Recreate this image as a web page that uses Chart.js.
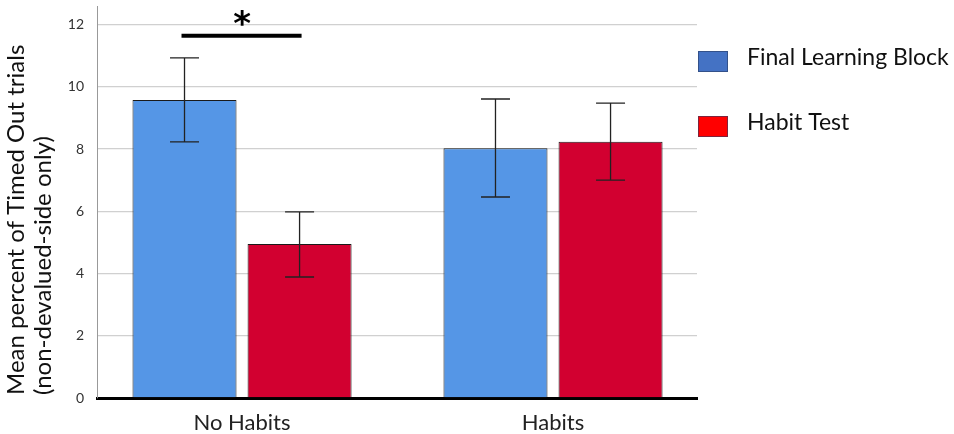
<!DOCTYPE html>
<html>
<head>
<meta charset="utf-8">
<script src="https://cdn.jsdelivr.net/npm/chart.js@4"></script>
<style>
html,body{margin:0;padding:0;background:#fff;}
#wrap{width:954px;height:434px;}
</style>
</head>
<body>
<div id="wrap"><canvas id="c" width="954" height="434"></canvas></div>
<script>
const categories = ["No Habits", "Habits"];
const seriesNames = ["Final Learning Block", "Habit Test"];
const finalLearning = [9.58, 8.03];
const finalLearningErrLow = [8.23, 6.46];
const finalLearningErrHigh = [10.93, 9.61];
const habitTest = [4.95, 8.24];
const habitTestErrLow = [3.89, 7.00];
const habitTestErrHigh = [5.98, 9.48];
const yTicks = [0, 2, 4, 6, 8, 10, 12];
const yTitleLines = ["Mean percent of Timed Out trials", "(non-devalued-side only)"];
const sigLevel = 11.64;
const sigLabel = "*";

const barColors = ["rgb(85,150,230)", "rgb(210,0,48)"];
const legendColors = ["#4472C4", "#FF0000"];
const FONT = "Lato, 'Open Sans', sans-serif";

const errLow = [finalLearningErrLow, habitTestErrLow];
const errHigh = [finalLearningErrHigh, habitTestErrHigh];

const errorBarPlugin = {
  id: 'errorBars',
  afterDatasetsDraw(chart) {
    const ctx = chart.ctx;
    const y = chart.scales.y;
    ctx.save();
    ctx.strokeStyle = '#222';
    ctx.lineWidth = 1.3;
    chart.data.datasets.forEach((ds, di) => {
      const meta = chart.getDatasetMeta(di);
      meta.data.forEach((bar, i) => {
        const x = bar.x;
        const yl = y.getPixelForValue(errLow[di][i]);
        const yh = y.getPixelForValue(errHigh[di][i]);
        const cap = 14.5;
        ctx.beginPath();
        ctx.moveTo(x, yl); ctx.lineTo(x, yh);
        ctx.moveTo(x - cap, yl); ctx.lineTo(x + cap, yl);
        ctx.moveTo(x - cap, yh); ctx.lineTo(x + cap, yh);
        ctx.stroke();
      });
    });
    const b0 = chart.getDatasetMeta(0).data[0];
    const b1 = chart.getDatasetMeta(1).data[0];
    const sy = y.getPixelForValue(sigLevel);
    ctx.lineWidth = 4;
    ctx.strokeStyle = '#000';
    ctx.beginPath();
    ctx.moveTo(b0.x - 3, sy); ctx.lineTo(b1.x + 2, sy);
    ctx.stroke();
    ctx.fillStyle = '#000';
    ctx.font = "bold 34px 'DejaVu Sans', sans-serif";
    ctx.textAlign = 'center';
    ctx.textBaseline = 'middle';
    ctx.fillText(sigLabel, (b0.x + b1.x) / 2, sy - 10);
    ctx.restore();
  },
  afterDraw(chart) {
    const ctx = chart.ctx;
    ctx.save();
    const tops = [51, 116];
    chart.data.datasets.forEach((ds, i) => {
      const top = tops[i];
      ctx.fillStyle = legendColors[i];
      ctx.fillRect(698, top, 30, 21);
      ctx.strokeStyle = 'rgba(40,60,100,0.6)';
      ctx.lineWidth = 1;
      ctx.strokeRect(698.5, top + 0.5, 29, 20);
      ctx.fillStyle = '#111';
      ctx.font = "23px " + FONT;
      ctx.textAlign = 'left';
      ctx.textBaseline = 'alphabetic';
      ctx.fillText(ds.label, 747, top + 14);
    });
    ctx.fillStyle = '#111';
    ctx.font = "24px " + FONT;
    ctx.textAlign = 'left';
    ctx.textBaseline = 'alphabetic';
    const baseX = [24, 51];
    yTitleLines.forEach((t, i) => {
      ctx.save();
      ctx.translate(baseX[i], 395);
      ctx.rotate(-Math.PI / 2);
      ctx.fillText(t, 0, 0);
      ctx.restore();
    });
    ctx.restore();
  }
};

new Chart(document.getElementById('c'), {
  type: 'bar',
  data: {
    datasets: [
      {
        label: seriesNames[0],
        data: finalLearning.map((v, i) => ({x: i, y: v})),
        backgroundColor: barColors[0],
        borderColor: '#1a1a1a',
        borderWidth: 1
      },
      {
        label: seriesNames[1],
        data: habitTest.map((v, i) => ({x: i, y: v})),
        backgroundColor: barColors[1],
        borderColor: '#1a1a1a',
        borderWidth: 1
      }
    ]
  },
  options: {
    responsive: false,
    animation: false,
    categoryPercentage: 0.74,
    barPercentage: 0.904,
    layout: {padding: {left: 0, right: 257, top: 6, bottom: 0}},
    plugins: {legend: {display: false}, tooltip: {enabled: false}},
    scales: {
      x: {
        type: 'linear',
        offset: false,
        min: -0.4664,
        max: 1.463,
        grid: {display: false, offset: false},
        border: {display: true, color: '#000', width: 3},
        afterBuildTicks(scale) { scale.ticks = categories.map((c, i) => ({value: i})); },
        afterFit(scale) { scale.height = 36; scale.paddingLeft = 0; scale.paddingRight = 0; },
        ticks: {
          autoSkip: false,
          maxRotation: 0,
          padding: 4,
          color: '#222',
          font: {family: FONT, size: 22},
          callback: (v) => categories[v] !== undefined ? categories[v] : ''
        }
      },
      y: {
        min: 0,
        max: 12.6,
        afterBuildTicks(scale) { scale.ticks = yTicks.map(v => ({value: v})); },
        afterFit(scale) { scale.width = 97; scale.paddingTop = 0; scale.paddingBottom = 0; },
        grid: {color: '#d0d0d0', lineWidth: 1.3, drawTicks: false},
        border: {display: true, color: '#999', width: 1},
        ticks: {
          padding: 13,
          color: '#333',
          font: {family: FONT, size: 14}
        },
        title: {display: false}
      }
    }
  },
  plugins: [errorBarPlugin]
});
</script>
</body>
</html>
